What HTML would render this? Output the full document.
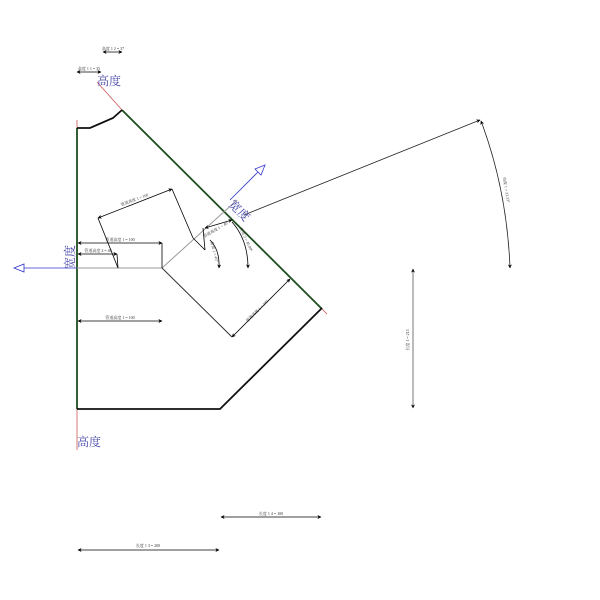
<!DOCTYPE html>
<html><head><meta charset="utf-8"><style>
html,body{margin:0;padding:0;background:#fff}
svg{display:block}
text{font-family:"Liberation Serif","Noto Serif CJK SC",serif}
.s{font-size:4px;fill:#333}
</style></head><body>
<svg width="600" height="600" viewBox="0 0 600 600" xmlns="http://www.w3.org/2000/svg">
<defs>
<marker id="a" viewBox="0 0 10 10" refX="9" refY="5" markerWidth="5" markerHeight="5" orient="auto-start-reverse"><path d="M0,0 L10,5 L0,10 L3,5 z" fill="#000"/></marker>
</defs>
<line x1="77" y1="120" x2="77" y2="128" stroke="#c55" stroke-width="0.8"/>
<line x1="77" y1="409" x2="77" y2="450" stroke="#c55" stroke-width="0.8"/>
<line x1="97" y1="82" x2="122" y2="110" stroke="#c55" stroke-width="0.8"/>
<line x1="320" y1="307" x2="327" y2="314" stroke="#c55" stroke-width="0.8"/>
<line x1="77" y1="128" x2="77" y2="409" stroke="#1e4d1e" stroke-width="1.8"/>
<line x1="122" y1="110" x2="322" y2="309" stroke="#1e4d1e" stroke-width="1.8"/>
<polyline points="77,128 90,128 113,118 122,110" fill="none" stroke="#111" stroke-width="1.8"/>
<polyline points="77,409 220,409 322,308" fill="none" stroke="#111" stroke-width="1.8"/>
<line x1="77" y1="268" x2="162" y2="268" stroke="#999" stroke-width="1"/>
<line x1="162" y1="268" x2="237" y2="200" stroke="#999" stroke-width="1"/>
<line x1="162" y1="268" x2="232" y2="337" stroke="#333" stroke-width="1"/>
<line x1="78" y1="243" x2="162" y2="243" stroke="#000" stroke-width="0.8" marker-start="url(#a)" marker-end="url(#a)"/>
<line x1="162" y1="243" x2="162" y2="268" stroke="#000" stroke-width="0.8"/>
<text class="s" x="120" y="241" text-anchor="middle">管道高度 1 = 100</text>
<line x1="78" y1="254" x2="117" y2="254" stroke="#000" stroke-width="0.8" marker-start="url(#a)" marker-end="url(#a)"/>
<text class="s" x="98" y="252" text-anchor="middle">管道高度 2 = 40</text>
<line x1="98" y1="218" x2="118" y2="268" stroke="#000" stroke-width="0.8"/>
<line x1="117" y1="254" x2="118" y2="268" stroke="#000" stroke-width="0.8"/>
<line x1="98" y1="218" x2="172" y2="189" stroke="#000" stroke-width="0.8" marker-start="url(#a)" marker-end="url(#a)"/>
<line x1="172" y1="189" x2="193" y2="238" stroke="#000" stroke-width="0.8"/>
<text class="s" transform="translate(135,201) rotate(-21)" text-anchor="middle">管道高度 1 = 100</text>
<line x1="78" y1="321" x2="162" y2="321" stroke="#000" stroke-width="0.8" marker-start="url(#a)" marker-end="url(#a)"/>
<text class="s" x="120" y="319" text-anchor="middle">管道高度 1 = 100</text>
<line x1="232" y1="337" x2="290" y2="279" stroke="#000" stroke-width="0.8" marker-start="url(#a)" marker-end="url(#a)"/>
<text class="s" transform="translate(258,312) rotate(-45)" text-anchor="middle">管道高度 1 = 100</text>
<line x1="193" y1="238" x2="205" y2="250" stroke="#000" stroke-width="0.8"/>
<line x1="205" y1="250" x2="203" y2="228" stroke="#000" stroke-width="0.8"/>
<line x1="205" y1="228" x2="232" y2="220" stroke="#000" stroke-width="0.8" marker-start="url(#a)" marker-end="url(#a)"/>
<text class="s" transform="translate(216,231) rotate(-30)" text-anchor="middle">管道高度 1 = 40</text>
<path d="M210,240 Q220,250 219,268" fill="none" stroke="#000" stroke-width="0.8" marker-end="url(#a)"/>
<text class="s" transform="translate(213,252) rotate(75)" text-anchor="middle">角度 1 = 45°</text>
<path d="M232,222 Q248,240 248,268" fill="none" stroke="#000" stroke-width="0.8" marker-end="url(#a)"/>
<text class="s" transform="translate(245,240) rotate(65)" text-anchor="middle">角度 2 = 45.00°</text>
<line x1="244" y1="215" x2="480" y2="120" stroke="#222" stroke-width="0.8" marker-end="url(#a)"/>
<path d="M481,121 Q507,190 510,268" fill="none" stroke="#222" stroke-width="0.8" marker-start="url(#a)" marker-end="url(#a)"/>
<text class="s" transform="translate(505,190) rotate(80)" text-anchor="middle">角度 1 = 33.33°</text>
<line x1="413" y1="269" x2="413" y2="408" stroke="#555" stroke-width="0.8" marker-start="url(#a)" marker-end="url(#a)"/>
<text class="s" transform="translate(409,340) rotate(-90)" text-anchor="middle">长度 1 = 215</text>
<line x1="221" y1="517" x2="321" y2="517" stroke="#000" stroke-width="0.8" marker-start="url(#a)" marker-end="url(#a)"/>
<text class="s" x="271" y="515" text-anchor="middle">长度 1 4 = 100</text>
<line x1="78" y1="550" x2="219" y2="550" stroke="#000" stroke-width="0.8" marker-start="url(#a)" marker-end="url(#a)"/>
<text class="s" x="148" y="547" text-anchor="middle">长度 1 3 = 200</text>
<line x1="103" y1="52" x2="122" y2="52" stroke="#000" stroke-width="0.8" marker-start="url(#a)" marker-end="url(#a)"/>
<text class="s" x="113" y="50" text-anchor="middle">高度 1 2 = 37</text>
<line x1="77" y1="72" x2="101" y2="72" stroke="#000" stroke-width="0.8" marker-start="url(#a)" marker-end="url(#a)"/>
<text class="s" x="89" y="70" text-anchor="middle">高度 1 1 = 35</text>
<line x1="77" y1="268" x2="24" y2="268" stroke="#33c" stroke-width="0.8"/>
<polygon points="14,268 24,264 24,272" fill="#fff" stroke="#33c" stroke-width="0.8"/>
<line x1="230" y1="200" x2="258" y2="172" stroke="#33c" stroke-width="0.8"/>
<polygon points="265,165 255,169 261,175" fill="#fff" stroke="#33c" stroke-width="0.8"/>
<text x="97" y="85" font-size="12" fill="#44a">高度</text>
<text x="77" y="446" font-size="12" fill="#44a">高度</text>
<text transform="translate(74,269) rotate(-90)" font-size="12" fill="#44a">宽度</text>
<text transform="translate(228,205) rotate(45)" font-size="12" fill="#44a">宽度</text>
</svg>
</body></html>
